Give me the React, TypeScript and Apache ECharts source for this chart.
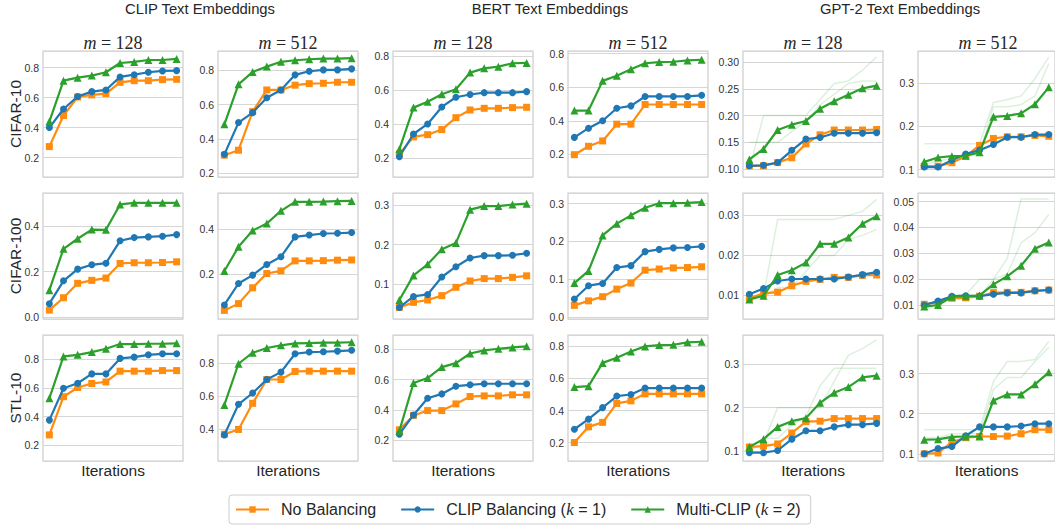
import React, { useEffect, useRef } from "react";
import * as echarts from "echarts";

// ---------- data ----------
const embeddings = ["CLIP Text Embeddings", "BERT Text Embeddings", "GPT-2 Text Embeddings"];
const mValues = [128, 512];
const datasets = ["CIFAR-10", "CIFAR-100", "STL-10"];
const seriesNames = ["No Balancing", "CLIP Balancing (k = 1)", "Multi-CLIP (k = 2)"];
const iterationIndex = [0, 1, 2, 3, 4, 5, 6, 7, 8, 9];

// each row: 6 panels (CLIP m128, CLIP m512, BERT m128, BERT m512, GPT-2 m128, GPT-2 m512)
const cifar10NoBal = [
  [0.273, 0.48, 0.604, 0.618, 0.627, 0.702, 0.713, 0.713, 0.72, 0.722],
  [0.305, 0.334, 0.559, 0.685, 0.685, 0.713, 0.722, 0.724, 0.73, 0.73],
  [0.224, 0.324, 0.337, 0.367, 0.437, 0.482, 0.492, 0.492, 0.496, 0.498],
  [0.198, 0.248, 0.28, 0.38, 0.38, 0.497, 0.497, 0.497, 0.497, 0.497],
  [0.106, 0.106, 0.112, 0.121, 0.147, 0.164, 0.173, 0.173, 0.173, 0.174],
  [0.108, 0.108, 0.116, 0.131, 0.156, 0.172, 0.176, 0.176, 0.179, 0.177],
];
const cifar10Clip = [
  [0.4, 0.524, 0.607, 0.64, 0.651, 0.738, 0.753, 0.769, 0.778, 0.78],
  [0.31, 0.495, 0.553, 0.64, 0.685, 0.773, 0.794, 0.802, 0.802, 0.808],
  [0.208, 0.341, 0.4, 0.5, 0.557, 0.573, 0.584, 0.584, 0.584, 0.59],
  [0.301, 0.356, 0.4, 0.475, 0.489, 0.545, 0.545, 0.545, 0.545, 0.552],
  [0.106, 0.107, 0.112, 0.135, 0.156, 0.159, 0.167, 0.167, 0.167, 0.168],
  [0.106, 0.106, 0.122, 0.136, 0.145, 0.158, 0.175, 0.175, 0.181, 0.181],
];
const cifar10Multi = [
  [0.44, 0.713, 0.733, 0.747, 0.769, 0.831, 0.838, 0.851, 0.851, 0.858],
  [0.485, 0.718, 0.79, 0.821, 0.849, 0.858, 0.864, 0.868, 0.868, 0.87],
  [0.251, 0.496, 0.531, 0.575, 0.604, 0.702, 0.727, 0.737, 0.757, 0.759],
  [0.461, 0.461, 0.638, 0.669, 0.707, 0.743, 0.75, 0.752, 0.76, 0.764],
  [0.118, 0.1375, 0.173, 0.183, 0.19, 0.213, 0.227, 0.239, 0.251, 0.256],
  [0.118, 0.128, 0.131, 0.132, 0.14, 0.222, 0.224, 0.23, 0.251, 0.29],
];
const cifar100NoBal = [
  [0.032, 0.086, 0.149, 0.162, 0.172, 0.236, 0.239, 0.239, 0.24, 0.243],
  [0.041, 0.071, 0.141, 0.204, 0.216, 0.26, 0.26, 0.261, 0.263, 0.264],
  [0.041, 0.054, 0.06, 0.071, 0.092, 0.108, 0.114, 0.114, 0.117, 0.121],
  [0.031, 0.043, 0.054, 0.074, 0.09, 0.124, 0.127, 0.13, 0.131, 0.133],
  [0.0093, 0.0105, 0.0108, 0.0124, 0.0135, 0.014, 0.0145, 0.0145, 0.015, 0.0151],
  [0.0103, 0.011, 0.0126, 0.0128, 0.0134, 0.0148, 0.0149, 0.0149, 0.0155, 0.0158],
];
const cifar100Clip = [
  [0.06, 0.16, 0.211, 0.23, 0.237, 0.335, 0.349, 0.352, 0.355, 0.362],
  [0.065, 0.16, 0.197, 0.244, 0.278, 0.366, 0.374, 0.381, 0.382, 0.385],
  [0.041, 0.069, 0.074, 0.118, 0.144, 0.166, 0.172, 0.172, 0.173, 0.178],
  [0.048, 0.083, 0.089, 0.131, 0.136, 0.173, 0.179, 0.183, 0.184, 0.187],
  [0.0103, 0.0117, 0.0136, 0.0141, 0.0141, 0.0141, 0.0141, 0.0146, 0.0152, 0.0158],
  [0.01, 0.0115, 0.0134, 0.0136, 0.0134, 0.0142, 0.0147, 0.0147, 0.0155, 0.0158],
];
const cifar100Multi = [
  [0.119, 0.3, 0.344, 0.384, 0.383, 0.494, 0.501, 0.501, 0.501, 0.501],
  [0.215, 0.322, 0.394, 0.425, 0.481, 0.521, 0.521, 0.522, 0.524, 0.525],
  [0.06, 0.122, 0.15, 0.188, 0.204, 0.288, 0.297, 0.297, 0.301, 0.303],
  [0.09, 0.122, 0.216, 0.247, 0.269, 0.289, 0.301, 0.301, 0.302, 0.304],
  [0.009, 0.0099, 0.0151, 0.0163, 0.0182, 0.0229, 0.0229, 0.0245, 0.0279, 0.0298],
  [0.0094, 0.01, 0.0132, 0.0134, 0.0137, 0.018, 0.0211, 0.0252, 0.0318, 0.0342],
];
const stl10NoBal = [
  [0.272, 0.538, 0.602, 0.63, 0.641, 0.716, 0.716, 0.716, 0.72, 0.72],
  [0.367, 0.396, 0.555, 0.7, 0.7, 0.749, 0.751, 0.751, 0.751, 0.751],
  [0.269, 0.364, 0.396, 0.396, 0.44, 0.489, 0.493, 0.493, 0.5, 0.5],
  [0.2, 0.298, 0.326, 0.444, 0.46, 0.504, 0.504, 0.504, 0.504, 0.504],
  [0.11, 0.112, 0.117, 0.142, 0.168, 0.169, 0.175, 0.175, 0.175, 0.175],
  [0.1, 0.102, 0.129, 0.14, 0.143, 0.143, 0.144, 0.15, 0.16, 0.16],
];
const stl10Clip = [
  [0.375, 0.597, 0.632, 0.697, 0.697, 0.805, 0.814, 0.83, 0.837, 0.837],
  [0.363, 0.549, 0.618, 0.7, 0.745, 0.857, 0.867, 0.869, 0.873, 0.878],
  [0.24, 0.367, 0.477, 0.506, 0.557, 0.566, 0.573, 0.573, 0.573, 0.573],
  [0.283, 0.346, 0.418, 0.49, 0.5, 0.54, 0.54, 0.54, 0.54, 0.54],
  [0.097, 0.097, 0.102, 0.128, 0.147, 0.147, 0.156, 0.161, 0.161, 0.164],
  [0.1, 0.113, 0.118, 0.145, 0.167, 0.167, 0.167, 0.169, 0.175, 0.175],
];
const stl10Multi = [
  [0.527, 0.819, 0.83, 0.849, 0.872, 0.905, 0.905, 0.907, 0.907, 0.91],
  [0.545, 0.796, 0.863, 0.892, 0.908, 0.92, 0.922, 0.924, 0.924, 0.927],
  [0.262, 0.578, 0.611, 0.683, 0.709, 0.773, 0.793, 0.804, 0.813, 0.82],
  [0.546, 0.552, 0.697, 0.729, 0.768, 0.8, 0.808, 0.81, 0.825, 0.829],
  [0.11, 0.128, 0.156, 0.169, 0.176, 0.211, 0.234, 0.247, 0.269, 0.273],
  [0.135, 0.136, 0.142, 0.143, 0.143, 0.233, 0.248, 0.248, 0.273, 0.303],
];

// faint individual runs of Multi-CLIP in the GPT-2 panels (row -> [m=128 runs, m=512 runs])
const gpt2MultiRunsCifar10 = [
  [
    [0.1, 0.2, 0.2, 0.2, 0.2, 0.23, 0.26, 0.265, 0.285, 0.31],
    [0.15, 0.15, 0.15, 0.17, 0.19, 0.22, 0.24, 0.26, 0.265, 0.265],
  ],
  [
    [0.16, 0.16, 0.16, 0.16, 0.16, 0.255, 0.262, 0.27, 0.31, 0.36],
    [0.11, 0.12, 0.125, 0.13, 0.135, 0.245, 0.245, 0.25, 0.27, 0.345],
  ],
];
const gpt2MultiRunsCifar100 = [
  [
    [0.0085, 0.01, 0.029, 0.029, 0.029, 0.029, 0.029, 0.03, 0.031, 0.034],
    [0.0095, 0.0095, 0.012, 0.012, 0.016, 0.02, 0.02, 0.024, 0.025, 0.0265],
  ],
  [
    [0.009, 0.01, 0.014, 0.014, 0.02, 0.02, 0.028, 0.051, 0.051, 0.051],
    [0.008, 0.01, 0.013, 0.013, 0.013, 0.02, 0.022, 0.034, 0.038, 0.045],
  ],
];
const gpt2MultiRunsStl10 = [
  [
    [0.1, 0.12, 0.2, 0.2, 0.2, 0.2, 0.26, 0.32, 0.335, 0.355],
    [0.11, 0.13, 0.13, 0.16, 0.18, 0.25, 0.29, 0.29, 0.29, 0.29],
  ],
  [
    [0.16, 0.16, 0.16, 0.16, 0.16, 0.28, 0.33, 0.33, 0.335, 0.38],
    [0.14, 0.14, 0.15, 0.15, 0.15, 0.26, 0.29, 0.29, 0.33, 0.365],
  ],
];

const rowData = [
  [cifar10NoBal, cifar10Clip, cifar10Multi],
  [cifar100NoBal, cifar100Clip, cifar100Multi],
  [stl10NoBal, stl10Clip, stl10Multi],
];
const rowFaintRuns = [gpt2MultiRunsCifar10, gpt2MultiRunsCifar100, gpt2MultiRunsStl10];

// y-axis extents [min, max, tick step] per panel
const yAxisSpecs = [
  [[0.07, 0.911, 0.2], [0.178, 0.912, 0.2], [0.088, 0.829, 0.2], [0.065, 0.816, 0.2], [0.085, 0.321, 0.05], [0.083, 0.374, 0.1]],
  [[-0.007, 0.544, 0.2], [0.003, 0.56, 0.2], [0.012, 0.33, 0.1], [-0.005, 0.328, 0.1], [0.0041, 0.0356, 0.01], [0.0046, 0.0533, 0.01]],
  [[0.09, 0.968, 0.2], [0.204, 0.971, 0.2], [0.063, 0.895, 0.2], [0.085, 0.871, 0.2], [0.078, 0.366, 0.1], [0.082, 0.396, 0.1]],
];

// ---------- style ----------
const COLORS = ["#ff8c0e", "#1f77b4", "#2ca02c"];
const SYMBOLS = ["rect", "circle", "triangle"];
const SYMBOL_SIZES = [7, 7, 8];
const SANS = "'Liberation Sans', Arial, Helvetica, sans-serif";
const SERIF = "'Liberation Serif', 'Times New Roman', serif";
const TEXT = "#262626";

function decimalsFor(step: number) {
  if (step >= 0.1) return 1;
  return 2;
}

function buildOption() {
  const grid: any[] = [];
  const xAxis: any[] = [];
  const yAxis: any[] = [];
  const series: any[] = [];
  const graphic: any[] = [];

  for (let r = 0; r < 3; r++) {
    for (let c = 0; c < 6; c++) {
      const idx = r * 6 + c;
      const left = 43 + c * 175;
      const top = 51 + r * 142;
      grid.push({
        left,
        top,
        width: 140,
        height: 126,
        show: true,
        backgroundColor: "#ffffff",
        borderColor: "#cccccc",
        borderWidth: 1.2,
        containLabel: false,
      });
      xAxis.push({
        type: "value",
        gridIndex: idx,
        min: -0.45,
        max: 9.45,
        axisLine: { show: false },
        axisTick: { show: false },
        axisLabel: { show: false },
        splitLine: { show: false },
        name: r === 2 ? "Iterations" : "",
        nameLocation: "middle",
        nameGap: 1,
        nameTextStyle: { fontSize: 15.5, color: TEXT, fontFamily: SANS, verticalAlign: "top" },
      });
      const [ymin, ymax, step] = yAxisSpecs[r][c];
      const dec = decimalsFor(step);
      yAxis.push({
        type: "value",
        gridIndex: idx,
        min: ymin,
        max: ymax,
        splitNumber: Math.round((ymax - ymin) / step),
        axisLine: { show: false },
        axisTick: { show: false },
        axisLabel: {
          fontSize: 10.5,
          color: "#333333",
          fontFamily: SANS,
          margin: 4,
          formatter: (v: number) => {
            const k = v / step;
            return Math.abs(k - Math.round(k)) < 1e-6 ? v.toFixed(dec) : "";
          },
        },
        splitLine: { show: true, lineStyle: { color: "#d6d6d6", width: 1.2 } },
      });

      // faint individual runs (GPT-2 panels)
      if (c >= 4) {
        const runs = rowFaintRuns[r][c - 4];
        runs.forEach((run) => {
          series.push({
            type: "line",
            xAxisIndex: idx,
            yAxisIndex: idx,
            data: iterationIndex.map((x, i) => [x, run[i]]),
            showSymbol: false,
            symbol: "none",
            lineStyle: { color: COLORS[2], width: 1.5, opacity: 0.16 },
            z: 1,
            silent: true,
          });
        });
      }

      for (let s = 0; s < 3; s++) {
        const vals = rowData[r][s][c];
        series.push({
          type: "line",
          name: seriesNames[s],
          xAxisIndex: idx,
          yAxisIndex: idx,
          data: iterationIndex.map((x, i) => [x, vals[i]]),
          symbol: SYMBOLS[s],
          symbolSize: SYMBOL_SIZES[s],
          showSymbol: true,
          lineStyle: { color: COLORS[s], width: 2.2 },
          itemStyle: { color: COLORS[s] },
          z: 3 + s,
          silent: true,
        });
      }
      if (r === 0) {
        graphic.push({
          type: "text",
          x: left + 70,
          y: 43,
          style: {
            text: "{it|m} = " + mValues[c % 2],
            fontFamily: SERIF,
            fontSize: 18,
            fill: TEXT,
            align: "center",
            verticalAlign: "middle",
            textAlign: "center",
            textVerticalAlign: "middle",
            rich: { it: { fontStyle: "italic", fontFamily: SERIF, fontSize: 18, fill: TEXT } },
          },
        });
      }
    }
  }

  embeddings.forEach((t, i) => {
    graphic.push({
      type: "text",
      x: 43 + i * 350 + 157,
      y: 9,
      style: {
        text: t,
        fontFamily: SANS,
        fontSize: 14.8,
        fill: TEXT,
        align: "center",
        verticalAlign: "middle",
        textAlign: "center",
        textVerticalAlign: "middle",
      },
    });
  });
  datasets.forEach((t, i) => {
    graphic.push({
      type: "text",
      x: 15,
      y: 51 + i * 142 + 63,
      rotation: Math.PI / 2,
      style: {
        text: t,
        fontFamily: SANS,
        fontSize: 15.5,
        fill: TEXT,
        align: "center",
        verticalAlign: "middle",
        textAlign: "center",
        textVerticalAlign: "middle",
      },
    });
  });

  return {
    animation: false,
    backgroundColor: "#ffffff",
    textStyle: { fontFamily: SANS },
    grid,
    xAxis,
    yAxis,
    series,
    graphic,
    legend: {
      data: seriesNames,
      left: 229,
      top: 495,
      itemWidth: 33,
      itemHeight: 8,
      itemGap: 24,
      borderColor: "#cccccc",
      borderWidth: 1,
      borderRadius: 3,
      padding: [6, 10, 6, 6],
      selectedMode: false,
      textStyle: {
        fontSize: 16,
        color: TEXT,
        fontFamily: SANS,
        padding: [0, 0, 0, 7],
        rich: {
          it: { fontStyle: "italic", fontFamily: SERIF, fontSize: 17, color: TEXT },
        },
      },
      formatter: (name: string) => name.replace(/\bk\b/, "{it|k}"),
    },
  };
}

export default function App() {
  const ref = useRef<HTMLDivElement>(null);
  useEffect(() => {
    if (!ref.current) return;
    const chart = echarts.init(ref.current, undefined, { renderer: "svg" });
    chart.setOption(buildOption() as any);
    return () => chart.dispose();
  }, []);
  return (
    <div
      ref={ref}
      style={{ position: "fixed", left: 0, top: 0, width: 1055, height: 525, background: "#fff" }}
    />
  );
}
